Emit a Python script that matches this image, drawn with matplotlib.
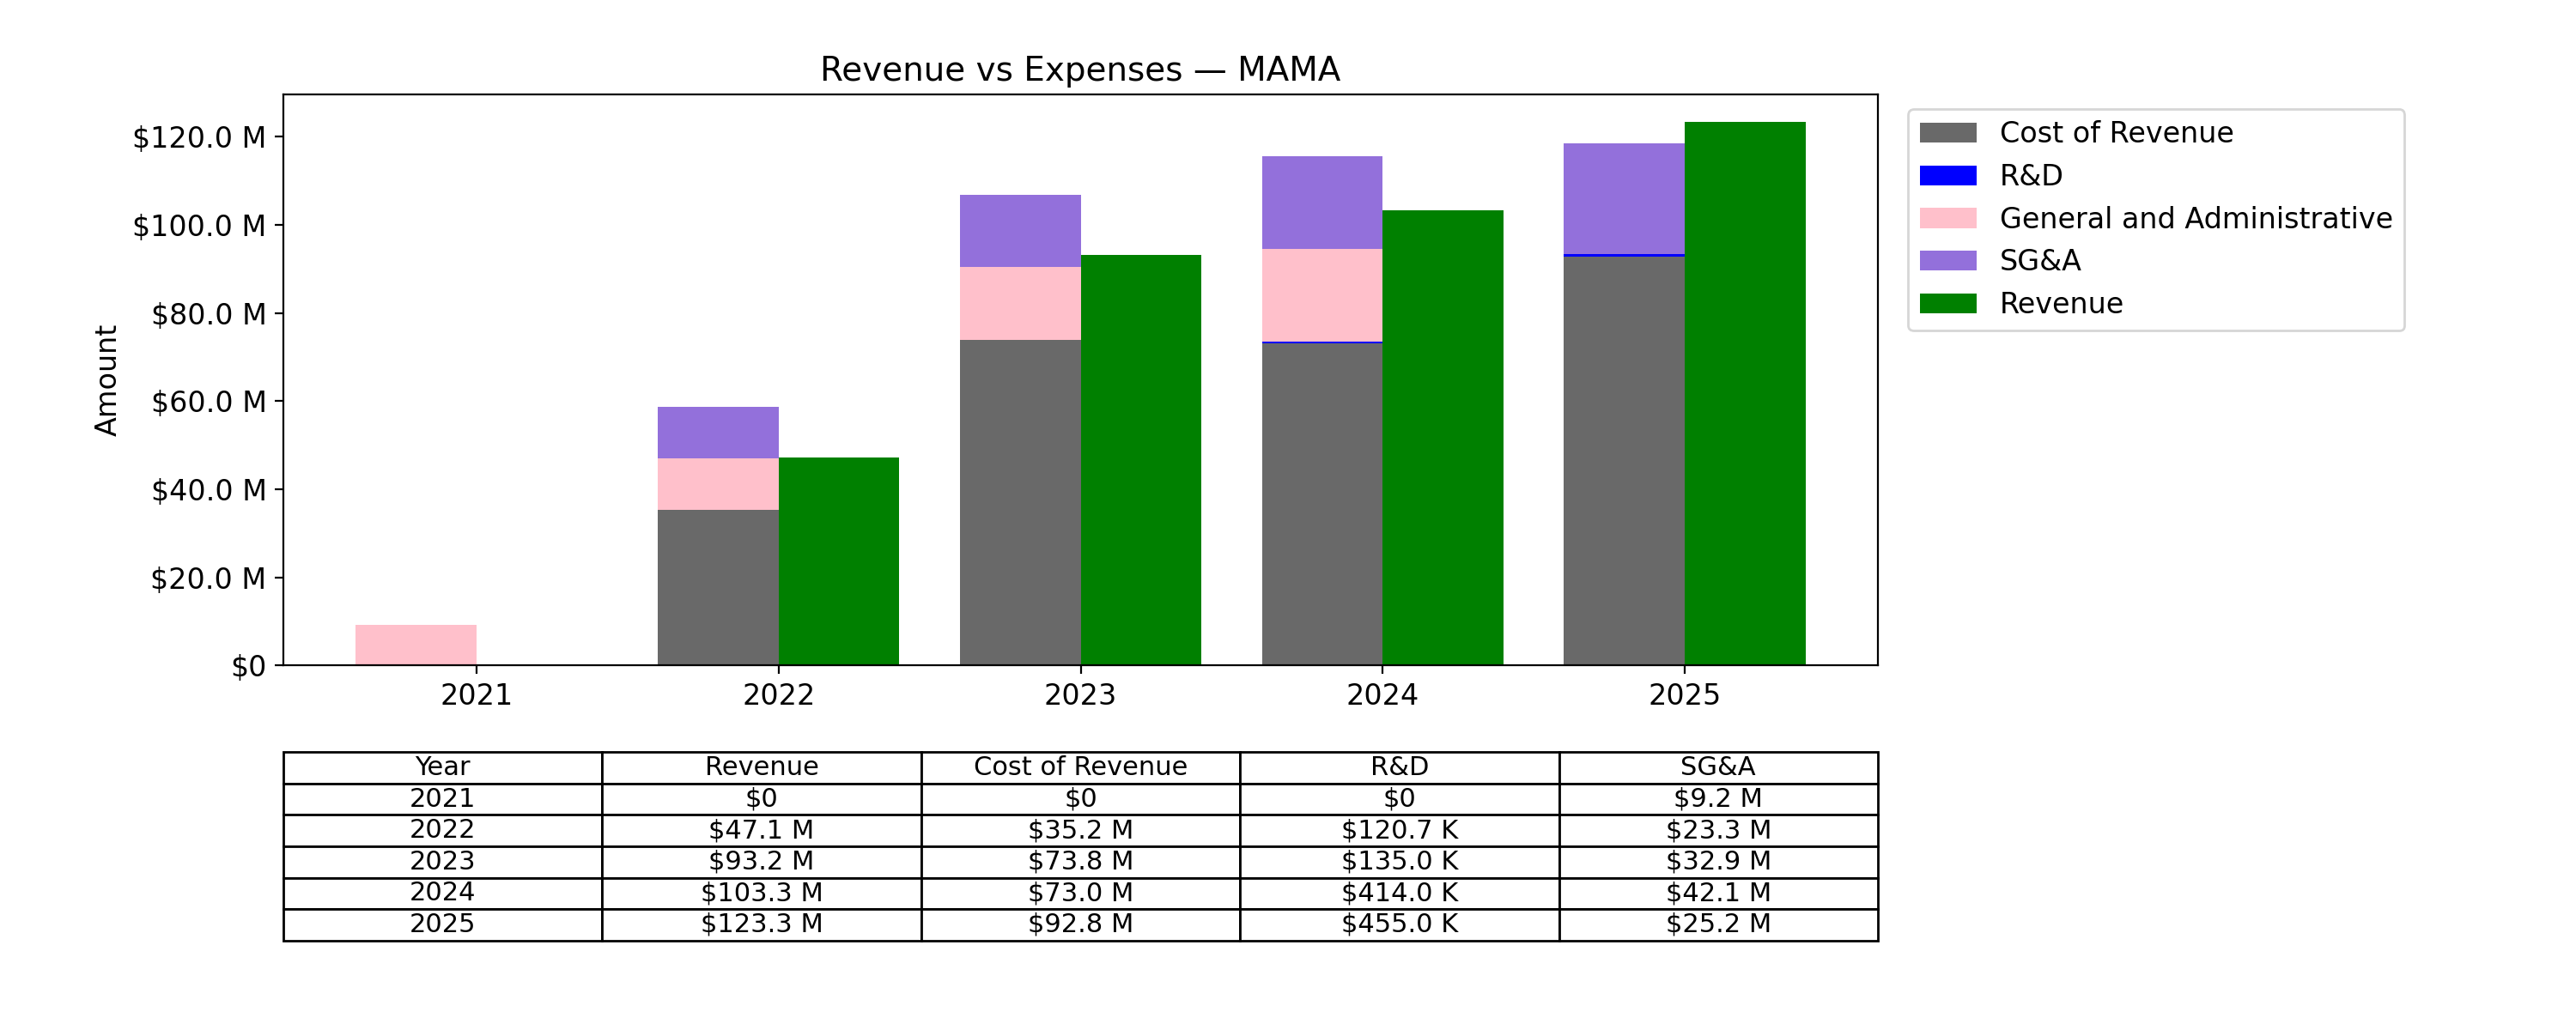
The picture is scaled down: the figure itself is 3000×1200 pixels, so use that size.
import numpy as np
import matplotlib.pyplot as plt

years = ["2021", "2022", "2023", "2024", "2025"]
revenue = [0, 47.1, 93.2, 103.3, 123.3]
cost_rev = [0, 35.2, 73.8, 73.0, 92.8]
rnd = [0, 0.1207, 0.135, 0.414, 0.455]
gna = [9.2, 11.6, 16.45, 21.05, 0]
sga = [0, 11.7, 16.45, 21.05, 25.2]

tbl_rev = ["$0", "$47.1 M", "$93.2 M", "$103.3 M", "$123.3 M"]
tbl_cost = ["$0", "$35.2 M", "$73.8 M", "$73.0 M", "$92.8 M"]
tbl_rnd = ["$0", "$120.7 K", "$135.0 K", "$414.0 K", "$455.0 K"]
tbl_sga = ["$9.2 M", "$23.3 M", "$32.9 M", "$42.1 M", "$25.2 M"]

x = np.arange(len(years))
w = 0.4
fig = plt.figure(figsize=(15, 6), dpi=200)
ax = fig.add_axes([0.11, 0.354, 0.619, 0.554])

cost_rev = np.array(cost_rev); rnd = np.array(rnd); gna = np.array(gna); sga = np.array(sga)
ax.bar(x - w/2, cost_rev, w, color="dimgray", label="Cost of Revenue")
ax.bar(x - w/2, rnd, w, bottom=cost_rev, color="blue", label="R&D")
ax.bar(x - w/2, gna, w, bottom=cost_rev + rnd, color="pink", label="General and Administrative")
ax.bar(x - w/2, sga, w, bottom=cost_rev + rnd + gna, color="mediumpurple", label="SG&A")
ax.bar(x + w/2, revenue, w, color="green", label="Revenue")

ax.set_xticks(x)
ax.set_xticklabels(years, fontsize=12)
ax.set_yticks(np.arange(0, 121, 20))
ax.set_yticklabels(["$0"] + [f"${v:.1f} M" for v in range(20, 121, 20)], fontsize=12)
ax.set_ylim(0, 129.5)
ax.set_xlim(-0.64, 4.64)
ax.set_ylabel("Amount", fontsize=12)
ax.set_title("Revenue vs Expenses — MAMA", fontsize=14)
ax.legend(loc="upper left", bbox_to_anchor=(1.01, 1.0), fontsize=12)

cells = [[years[i], tbl_rev[i], tbl_cost[i], tbl_rnd[i], tbl_sga[i]] for i in range(len(years))]
tb = ax.table(cellText=cells, colLabels=["Year", "Revenue", "Cost of Revenue", "R&D", "SG&A"],
              cellLoc="center", bbox=[0, -0.482, 1, 0.33])
tb.auto_set_font_size(False)
tb.set_fontsize(11)

fig.savefig("out.png")
